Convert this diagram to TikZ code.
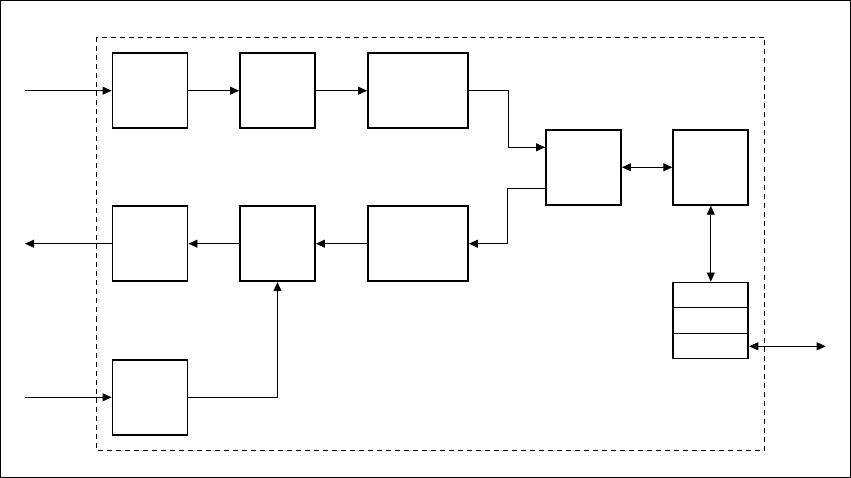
\documentclass[tikz,border=0pt]{standalone}
\usetikzlibrary{arrows.meta,calc}
\begin{document}
\begin{tikzpicture}[>={Triangle[length=9pt,width=8pt]},x=1pt,y=-1pt,
	blk/.style={draw,line width=1.9pt,minimum width=75pt,minimum height=75pt,inner sep=0pt},
	wire/.style={line width=0.9pt}]
	\def\ra{90.7}
	\def\rb{243.7}
	\def\rc{397.3}
	\def\rm{167.3}
	\useasboundingbox (0,0) rectangle (851,478);
	\draw[line width=1.3pt] (0.6,0.6) rectangle (850.4,477.4);
	\draw[line width=0.9pt,dash pattern=on 5pt off 4pt] (96.5,37.5) rectangle (764.5,450);
	% upper row
	\node[blk] (A) at (150,\ra) {};
	\node[blk] (B) at (277.5,\ra) {};
	\node[blk,minimum width=100pt] (C) at (418,\ra) {};
	% middle
	\node[blk] (D) at (583.5,\rm) {};
	\node[blk] (E) at (710.8,\rm) {};
	\node[blk,minimum height=76pt] (S) at (710.8,320.5) {};
	\draw[line width=1.9pt] ($(S.north west)!1/3!(S.south west)$) -- ($(S.north east)!1/3!(S.south east)$);
	\draw[line width=1.9pt] ($(S.north west)!2/3!(S.south west)$) -- ($(S.north east)!2/3!(S.south east)$);
	% lower row
	\node[blk] (F) at (150,\rb) {};
	\node[blk] (G) at (277.5,\rb) {};
	\node[blk,minimum width=100pt] (H) at (418,\rb) {};
	\node[blk] (I) at (150,\rc) {};
	% free ends
	\coordinate (in1) at (25,\ra);
	\coordinate (out1) at (25,\rb);
	\coordinate (in2) at (25,\rc);
	\coordinate (io) at (825.7,346.3);
	% connectors
	\draw[wire,->] (in1) -- (A.west);
	\draw[wire,->] (A.east) -- (B.west);
	\draw[wire,->] (B.east) -- (C.west);
	\draw[wire,->] (C.east) -- ++(39.7,0) |- ($(D.west)+(0,-20)$);
	\draw[wire,->] ($(D.west)+(0,21)$) -- ++(-38,0) |- (H.east);
	\draw[wire,<->] (D.east) -- (E.west);
	\draw[wire,<->] (E.south) -- (S.north);
	\draw[wire,<->] (S.east |- io) -- (io);
	\draw[wire,->] (H.west) -- (G.east);
	\draw[wire,->] (G.west) -- (F.east);
	\draw[wire,->] (F.west) -- (out1);
	\draw[wire,->] (in2) -- (I.west);
	\draw[wire,->] (I.east) -| (G.south);
\end{tikzpicture}
\end{document}
